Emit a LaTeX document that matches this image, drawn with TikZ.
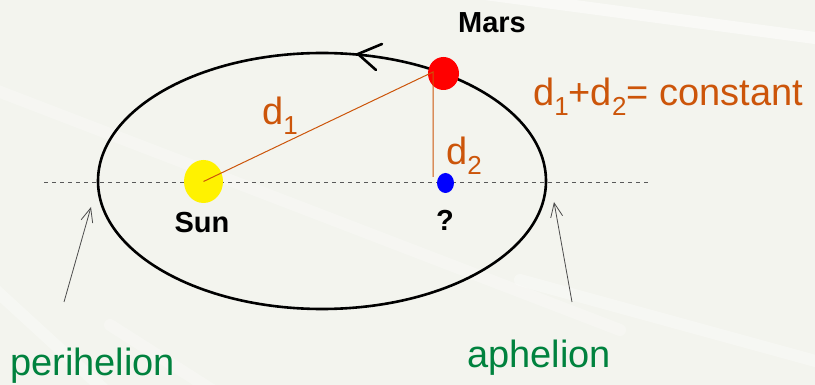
\documentclass[tikz,border=0pt]{standalone}
\usepackage{fontspec}
\setmainfont{Liberation Sans}
\usetikzlibrary{arrows.meta,shapes.geometric}
\definecolor{bgc}{RGB}{243,244,238}
\definecolor{orng}{RGB}{204,85,10}
\definecolor{grn}{RGB}{0,130,62}
\newcommand{\subd}[1]{\raisebox{-10pt}{\fontsize{26}{26}\selectfont #1}}
\tikzset{
  lbl/.style={inner sep=0pt, anchor=base west},
  blk/.style={lbl, anchor=base, font=\fontsize{29}{30}\selectfont\bfseries, text=black},
  big/.style={lbl, font=\fontsize{38}{40}\selectfont},
  streak/.style={white, opacity=0.35, line width=12pt, line cap=round},
  pointer/.style={draw=gray!60!black, line width=0.8pt, -{Straight Barb[length=14pt,width=12pt,line width=0.8pt]}},
  orbitline/.style={line width=2.6pt, draw=black},
  body/.style={ellipse, inner sep=0pt},
}
\begin{document}
\begin{tikzpicture}[x=1pt,y=-1pt]
\fill[bgc] (0,0) rectangle (815,385);
\useasboundingbox (0,0) rectangle (815,385);
% faint background streaks
\draw[streak, opacity=0.5] (470,-8) -- (830,40);
\draw[streak, opacity=0.25] (-10,88) -- (620,330);
\draw[streak, opacity=0.3] (-10,285) -- (110,395);
\draw[streak, opacity=0.3] (520,280) -- (830,365);
\draw[streak, opacity=0.25] (110,325) -- (220,395);
% axis
\coordinate (axL) at (44,182);
\coordinate (axR) at (650,182);
\draw[gray!70!black, line width=0.8pt, dash pattern=on 4pt off 4pt] (axL) -- (axR);
% orbit
\node[orbitline, ellipse, minimum width=448pt, minimum height=256pt, inner sep=0pt] (orbit) at (322,181) {};
% orbit direction arrowhead
\coordinate (atip) at (358,54);
\coordinate (aup) at (382,44);
\coordinate (alo) at (376,70);
\draw[line width=2.6pt, line cap=round] (aup) -- (atip) -- (alo);
% bodies
\node[body, fill=yellow, minimum width=39pt, minimum height=43pt] (sun) at (203.5,181.5) {};
\node[body, fill=red, minimum width=31pt, minimum height=33pt] (mars) at (443.5,73.5) {};
\node[body, fill=blue, minimum width=17pt, minimum height=20pt] (focus) at (445.5,183) {};
\coordinate (mp) at (433,72);
\coordinate (vb) at (433,177);
\draw[orng, line width=1pt] (sun.center) -- (mp) -- (vb);
% labels
\node[blk] (marsl) at (492,33) {Mars};
\node[blk] (sunl) at (202,233) {Sun};
\node[blk] (ql) at (445,231) {?};
\node[big, text=orng] (d1l) at (262,125) {d\subd{1}};
\node[big, text=orng] (d2l) at (446,165) {d\subd{2}};
\node[big, text=orng] (eq) at (533,106) {d\subd{1}+d\subd{2}= constant};
\node[big, text=grn] (peri) at (10,375) {perihelion};
\node[big, text=grn] (aph) at (467,367) {aphelion};
% pointers
\coordinate (pfrom) at (64,302);
\coordinate (pto) at (91,207);
\coordinate (afrom) at (572,302);
\coordinate (ato) at (554,202);
\draw[pointer] (pfrom) -- (pto);
\draw[pointer] (afrom) -- (ato);
\end{tikzpicture}
\end{document}
